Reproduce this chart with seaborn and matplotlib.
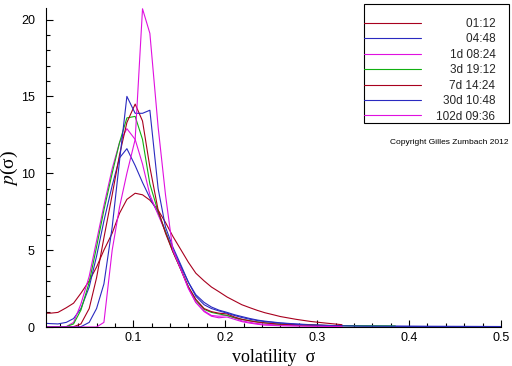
import matplotlib
matplotlib.use("Agg")
import matplotlib.pyplot as plt
from matplotlib.ticker import MultipleLocator
import numpy as np
import pandas as pd
import seaborn as sns

nan = np.nan

# volatility grid (x) shared by all curves
sigma = [0.002, 0.010, 0.018, 0.027, 0.035, 0.043, 0.052, 0.060, 0.068, 0.077,
         0.085, 0.093, 0.102, 0.110, 0.118, 0.127, 0.135, 0.143, 0.152, 0.160,
         0.168, 0.177, 0.185, 0.193, 0.202, 0.210, 0.218, 0.227, 0.235, 0.243,
         0.252, 0.260, 0.277, 0.293, 0.310, 0.327, 0.350, 0.385, 0.420, 0.460,
         0.500]

# p(sigma), one list per time horizon
p_0112 = [0.9, 0.9, 0.95, 1.25, 1.55, 2.2, 3.0, 3.9, 5.0, 6.1,
          7.4, 8.3, 8.7, 8.6, 8.25, 7.6, 6.8, 5.9, 5.0, 4.2,
          3.5, 3.0, 2.6, 2.3, 1.95, 1.7, 1.45, 1.25, 1.08, 0.93,
          0.8, 0.68, 0.5, 0.36, 0.25, 0.15, nan, nan, nan, nan,
          nan]
p_0448 = [0.25, 0.22, 0.2, 0.3, 0.55, 1.2, 2.6, 4.6, 6.9, 9.2,
          11.0, 11.6, 10.5, 9.4, 8.4, 7.4, 6.2, 5.0, 3.9, 2.9,
          2.1, 1.6, 1.3, 1.1, 0.95, 0.8, 0.68, 0.55, 0.45, 0.38,
          0.32, 0.27, 0.2, 0.15, 0.1, 0.08, 0.06, 0.05, 0.04, 0.03,
          0.03]
p_1d = [0.0, 0.0, 0.0, 0.02, 0.3, 1.5, 3.3, 5.6, 7.9, 10.3,
        12.0, 12.9, 12.2, 10.6, 8.6, 7.3, 6.2, 5.0, 3.7, 2.5,
        1.6, 1.05, 0.75, 0.7, 0.75, 0.6, 0.4, 0.3, 0.22, 0.18,
        0.15, 0.12, 0.1, 0.08, 0.06, 0.05, nan, nan, nan, nan,
        nan]
p_3d = [0.0, 0.0, 0.0, 0.02, 0.2, 1.1, 2.9, 5.2, 7.6, 10.0,
        12.0, 13.6, 13.7, 12.2, 9.3, 7.5, 6.2, 4.9, 3.7, 2.6,
        1.75, 1.15, 0.95, 0.85, 0.75, 0.6, 0.5, 0.4, 0.33, 0.27,
        0.22, 0.18, 0.15, 0.12, 0.1, 0.09, 0.08, 0.07, nan, nan,
        nan]
p_7d = [0.0, 0.0, 0.0, 0.0, 0.02, 0.2, 1.2, 3.2, 5.8, 8.6,
        11.2, 13.3, 14.5, 13.4, 10.4, 7.6, 6.1, 4.9, 3.7, 2.6,
        1.8, 1.2, 1.0, 0.9, 0.85, 0.65, 0.5, 0.4, 0.32, 0.27,
        0.22, 0.18, 0.15, 0.12, 0.1, 0.08, nan, nan, nan, nan,
        nan]
p_30d = [0.0, 0.0, 0.0, 0.0, 0.0, 0.02, 0.3, 1.2, 2.8, 6.5,
         10.8, 15.0, 13.9, 13.9, 14.1, 9.0, 6.5, 5.2, 4.0, 2.9,
         2.0, 1.45, 1.2, 1.05, 0.9, 0.75, 0.62, 0.5, 0.42, 0.35,
         0.3, 0.25, 0.18, 0.13, 0.1, 0.08, 0.06, 0.05, 0.04, 0.04,
         0.03]
p_102d = [0.0, 0.0, 0.0, 0.0, 0.0, 0.0, 0.0, 0.0, 0.3, 5.0,
          7.8, 10.0, 12.2, 20.7, 19.1, 13.0, 8.6, 5.0, 3.7, 2.5,
          1.6, 1.0, 0.7, 0.6, 0.65, 0.5, 0.35, 0.25, 0.18, 0.12,
          0.1, 0.08, 0.06, 0.05, 0.04, 0.03, nan, nan, nan, nan,
          nan]

labels = ["01:12", "04:48", "1d 08:24", "3d 19:12", "7d 14:24", "30d 10:48", "102d 09:36"]
colors = ["#a8001e", "#2a2ac0", "#e010e0", "#10b010", "#a8001e", "#2a2ac0", "#e010e0"]
series = [p_0112, p_0448, p_1d, p_3d, p_7d, p_30d, p_102d]

frames = []
for lab, vals in zip(labels, series):
    frames.append(pd.DataFrame({"sigma": sigma, "p": vals, "horizon": lab}))
df = pd.concat(frames, ignore_index=True).dropna()

sns.set_theme(style="ticks")
plt.rcParams["font.family"] = ["Liberation Sans", "DejaVu Sans"]
plt.rcParams["mathtext.fontset"] = "stix"

fig = plt.figure(figsize=(5.12, 3.66), dpi=100)
ax = fig.add_axes([46 / 512, 39 / 366, 455 / 512, 319 / 366])

sns.lineplot(data=df, x="sigma", y="p", hue="horizon", hue_order=labels,
             palette=colors, estimator=None, linewidth=0.8, ax=ax)

ax.set_xlim(0.005, 0.5)
ax.set_ylim(0, 20.75)
ax.set_xticks([0.1, 0.2, 0.3, 0.4, 0.5])
ax.set_xticklabels(["0.1", "0.2", "0.3", "0.4", "0.5"])
ax.set_yticks([0, 5, 10, 15, 20])
ax.xaxis.set_minor_locator(MultipleLocator(0.02))
ax.yaxis.set_minor_locator(MultipleLocator(1))
ax.tick_params(axis="both", which="major", direction="in", length=5, width=0.8,
               color="black", labelsize=9, labelcolor="black")
ax.tick_params(axis="both", which="minor", direction="in", length=3, width=0.8, color="black")
ax.tick_params(axis="y", pad=8)
ax.tick_params(axis="x", pad=3.5)
sns.despine(ax=ax)
for s in ["left", "bottom"]:
    ax.spines[s].set_color("black")
    ax.spines[s].set_linewidth(0.8)

ax.set_xlabel("volatility  σ", fontfamily="Liberation Serif", fontsize=13, color="black")
ax.xaxis.set_label_coords(0.5, -0.068)
ax.set_ylabel("$p$(σ)", fontfamily="Liberation Serif", fontsize=14, color="black")
ax.yaxis.set_label_coords(-0.057, 0.5)

handles, labs = ax.get_legend_handles_labels()
leg = ax.legend(handles, [l + "    " for l in labs], loc="upper right",
                bbox_to_anchor=(509 / 512, 1 - 4 / 366), bbox_transform=fig.transFigure,
                borderaxespad=0, fancybox=False, edgecolor="black", framealpha=1,
                fontsize=8.5, handlelength=4.8, handletextpad=1.3, labelspacing=0.29,
                borderpad=0.05, title=" ", title_fontsize=7)
leg.get_frame().set_linewidth(0.8)
for h in leg.get_lines():
    h.set_linewidth(0.8)

# right-align the legend labels by shifting each one inside its column
fig.canvas.draw()
r = fig.canvas.get_renderer()
texts = leg.get_texts()
widths = [t.get_window_extent(r).width for t in texts]
w = max(widths)
for t, wi in zip(texts, widths):
    t.set_position((w - wi, 0))

fig.text(509 / 512, 1 - 143 / 366, "Copyright Gilles Zumbach 2012", ha="right",
         va="center", fontsize=6, color="black")

fig.savefig("out.png", dpi=100)
